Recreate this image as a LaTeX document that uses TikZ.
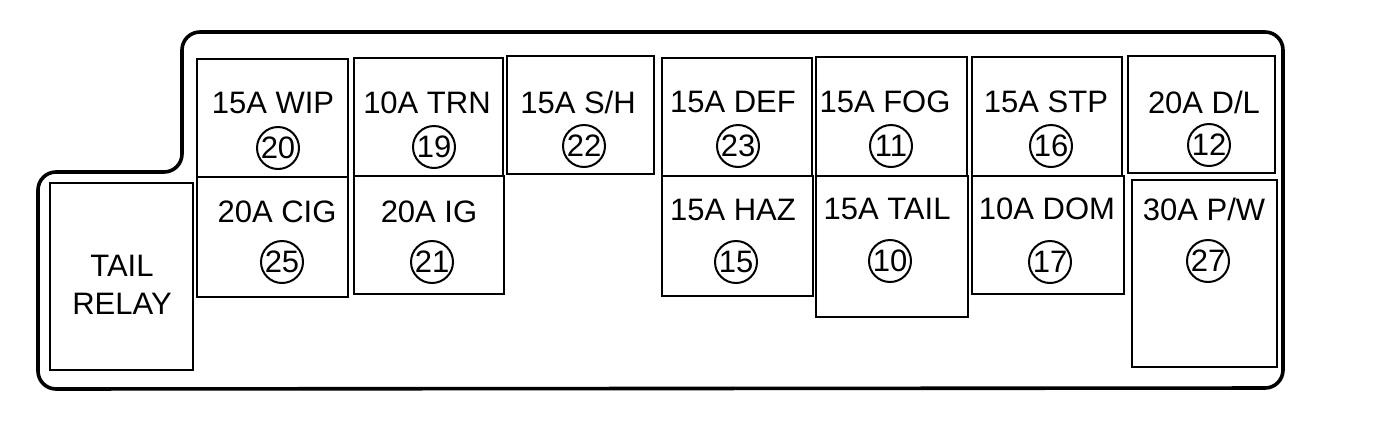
\documentclass[tikz,border=0pt]{standalone}
\usepackage{fontspec}
\setmainfont{Liberation Sans}
\usetikzlibrary{fit}
\begin{document}
\begin{tikzpicture}[x=0.5pt,y=-0.5pt,
  outline/.style={draw, line width=1.8pt, rounded corners=9pt},
  fbox/.style={draw, line width=1.1pt, inner sep=0pt},
  lbl/.style={font=\fontsize{15.5}{19}\selectfont, inner sep=0pt, align=center},
  num/.style={draw, circle, line width=1pt, minimum size=21pt, inner sep=-5pt, font=\fontsize{15.5}{17}\selectfont}]
\useasboundingbox (0,0) rectangle (1376,424);
% housing outline
\draw[outline] (38,389) -- (38,172) -- (182,172) -- (182,32) -- (1283,32) -- (1283,388) -- cycle;
% relay
\node[fbox, fit={(50,183) (193,370)}] (relay) {};
\node[lbl] (relaytxt) at (122,285) {TAIL\\RELAY};
% fuse boxes
\node[fbox, fit={(197,59) (348,177)}] (bwip) {};
\node[fbox, fit={(197,177) (348,297)}] (bcig) {};
\node[fbox, fit={(354,58) (503,176)}] (btrn) {};
\node[fbox, fit={(354,176) (504,294)}] (big) {};
\node[fbox, fit={(507,56) (654,174)}] (bsh) {};
\node[fbox, fit={(662,58) (812,176)}] (bdef) {};
\node[fbox, fit={(662,176) (813,296)}] (bhaz) {};
\node[fbox, fit={(816,57) (967,176)}] (bfog) {};
\node[fbox, fit={(816,176) (968,317)}] (btail) {};
\node[fbox, fit={(972,57) (1122,176)}] (bstp) {};
\node[fbox, fit={(972,176) (1124,294)}] (bdom) {};
\node[fbox, fit={(1128,56) (1275,173)}] (bdl) {};
\node[fbox, fit={(1132,180) (1277,367)}] (bpw) {};
% labels
\node[lbl] (twip) at (273,103) {15A WIP};
\node[lbl] (ttrn) at (427,103) {10A TRN};
\node[lbl] (tsh) at (578,102) {15A S/H};
\node[lbl] (tdef) at (733,102) {15A DEF};
\node[lbl] (tfog) at (885,102) {15A FOG};
\node[lbl] (tstp) at (1046,102) {15A STP};
\node[lbl] (tdl) at (1204,102) {20A D/L};
\node[lbl] (tcig) at (277,212) {20A CIG};
\node[lbl] (tig) at (429,212) {20A IG};
\node[lbl] (thaz) at (733,210) {15A HAZ};
\node[lbl] (ttail) at (887,209) {15A TAIL};
\node[lbl] (tdom) at (1047,209) {10A DOM};
\node[lbl] (tpw) at (1204,209) {30A P/W};
% circled numbers
\node[num] (n20) at (278,148) {20};
\node[num] (n19) at (434,147) {19};
\node[num] (n22) at (584,146) {22};
\node[num] (n23) at (738,146) {23};
\node[num] (n11) at (891,146) {11};
\node[num] (n16) at (1051,146) {16};
\node[num] (n12) at (1209,145) {12};
\node[num] (n25) at (282,262) {25};
\node[num] (n21) at (432,262) {21};
\node[num] (n15) at (736,262) {15};
\node[num] (n10) at (890,261) {10};
\node[num] (n17) at (1050,262) {17};
\node[num] (n27) at (1208,261) {27};
\end{tikzpicture}
\end{document}
